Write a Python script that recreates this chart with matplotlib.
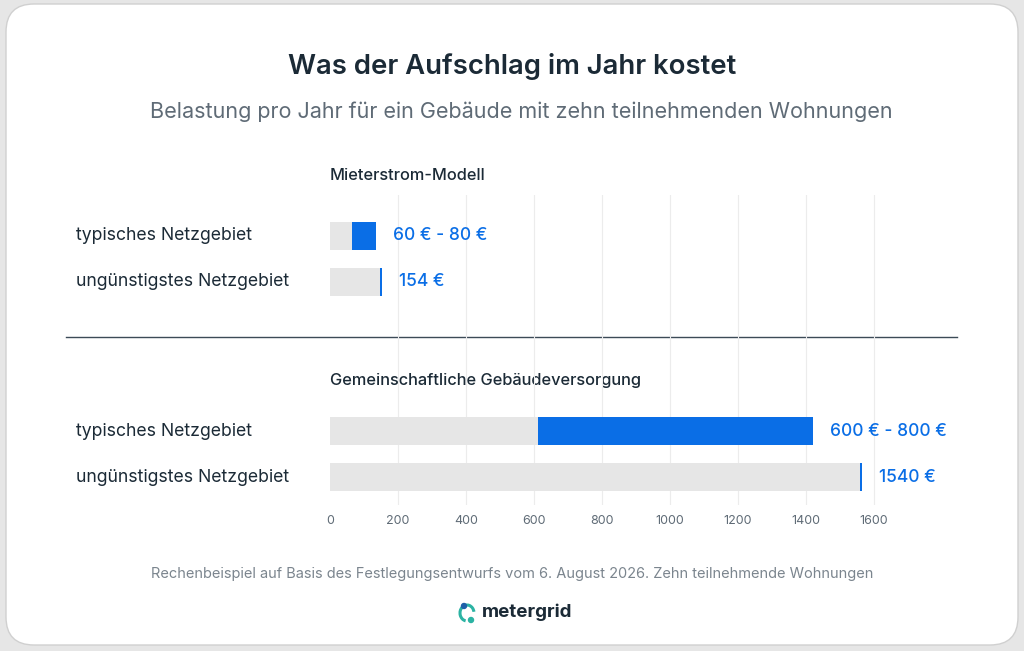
import matplotlib
matplotlib.use("Agg")
import matplotlib.pyplot as plt
from matplotlib.patches import FancyBboxPatch, Circle, Arc

plt.rcParams['font.family'] = ['Inter', 'DejaVu Sans']

title = "Was der Aufschlag im Jahr kostet"
subtitle = "Belastung pro Jahr für ein Gebäude mit zehn teilnehmenden Wohnungen"
groups = ["Mieterstrom-Modell", "Gemeinschaftliche Gebäudeversorgung"]
rows = ["typisches Netzgebiet", "ungünstigstes Netzgebiet"]
# [group][row]: grey base, blue range end, label
grey_vals = [[65, 154], [612, 1565]]
blue_end = [[135, None], [1420, None]]
labels = [["60 € - 80 €", "154 €"], ["600 € - 800 €", "1540 €"]]
ticks = [0, 200, 400, 600, 800, 1000, 1200, 1400, 1600]
footnote = "Rechenbeispiel auf Basis des Festlegungsentwurfs vom 6. August 2026. Zehn teilnehmende Wohnungen"

W, H = 1024, 651
fig = plt.figure(figsize=(W/100, H/100), dpi=100)
fig.patch.set_facecolor('#e6e6e6')
bg = fig.add_axes([0, 0, 1, 1])
bg.set_xlim(0, W); bg.set_ylim(H, 0); bg.axis('off')
bg.add_patch(FancyBboxPatch((6, 4), W-12, H-10, boxstyle="round,pad=0,rounding_size=28",
                            fc='white', ec='#d0d0d0', lw=1))
dark = '#1b2a36'
blue = '#0a6ee6'
grey = '#e6e6e6'
bg.text(512, 66, title, ha='center', va='center', fontsize=19.8, fontweight='semibold', color=dark)
bg.text(521, 112, subtitle, ha='center', va='center', fontsize=15.5, color='#5f6b76')
bg.text(512, 574, footnote, ha='center', va='center', fontsize=10.5, color='#7b858e')
bg.plot([66, 957], [337, 337], color='#3c4b57', lw=1)
# logo
bg.add_patch(Arc((467, 613), 14, 16, theta1=100, theta2=350, color='#2bb3a3', lw=2.2))
bg.add_patch(Circle((464, 606), 2.5, color='#1e5fa8'))
bg.add_patch(Circle((471, 620), 2.5, color='#2bb3a3'))
bg.text(482, 612, "metergrid", ha='left', va='center', fontsize=13.5, fontweight='bold', color=dark)

# data axes
x0, x1 = 330, 957
y_top, y_bot = 195, 505
scale = 544/1600
ax = fig.add_axes([x0/W, 1-y_bot/H, (x1-x0)/W, (y_bot-y_top)/H])
ax.set_xlim(0, (x1-x0)/scale)
ax.set_ylim(y_bot, y_top)
ax.axis('off')
for t in ticks[1:]:
    ax.axvline(t, color='#ececec', lw=0.8, zorder=0)
row_y = [[236, 282], [431, 477]]
head_y = [176, 380]
bh = 28
for g in range(2):
    bg.text(330, head_y[g], groups[g], ha='left', va='center', fontsize=11.8, fontweight='medium', color=dark)
    for r in range(2):
        y = row_y[g][r]
        bg.text(76, y, rows[r], ha='left', va='center', fontsize=12.7, color=dark)
        gv = grey_vals[g][r]
        ax.barh(y, gv, height=bh, color=grey, zorder=2)
        if blue_end[g][r] is not None:
            ax.barh(y, blue_end[g][r]-gv, left=gv, height=bh, color=blue, zorder=3)
            end = blue_end[g][r]
        else:
            ax.barh(y, 6, left=gv-6, height=bh, color=blue, zorder=3)
            end = gv
        ax.text(end + 50, y, labels[g][r], ha='left', va='center', fontsize=12.5,
                fontweight='medium', color=blue)
for t in ticks:
    bg.text(x0 + t*scale, 521, str(t), ha='center', va='center', fontsize=9, color='#5f6b76')

fig.savefig('out.png', dpi=100, facecolor=fig.get_facecolor())
